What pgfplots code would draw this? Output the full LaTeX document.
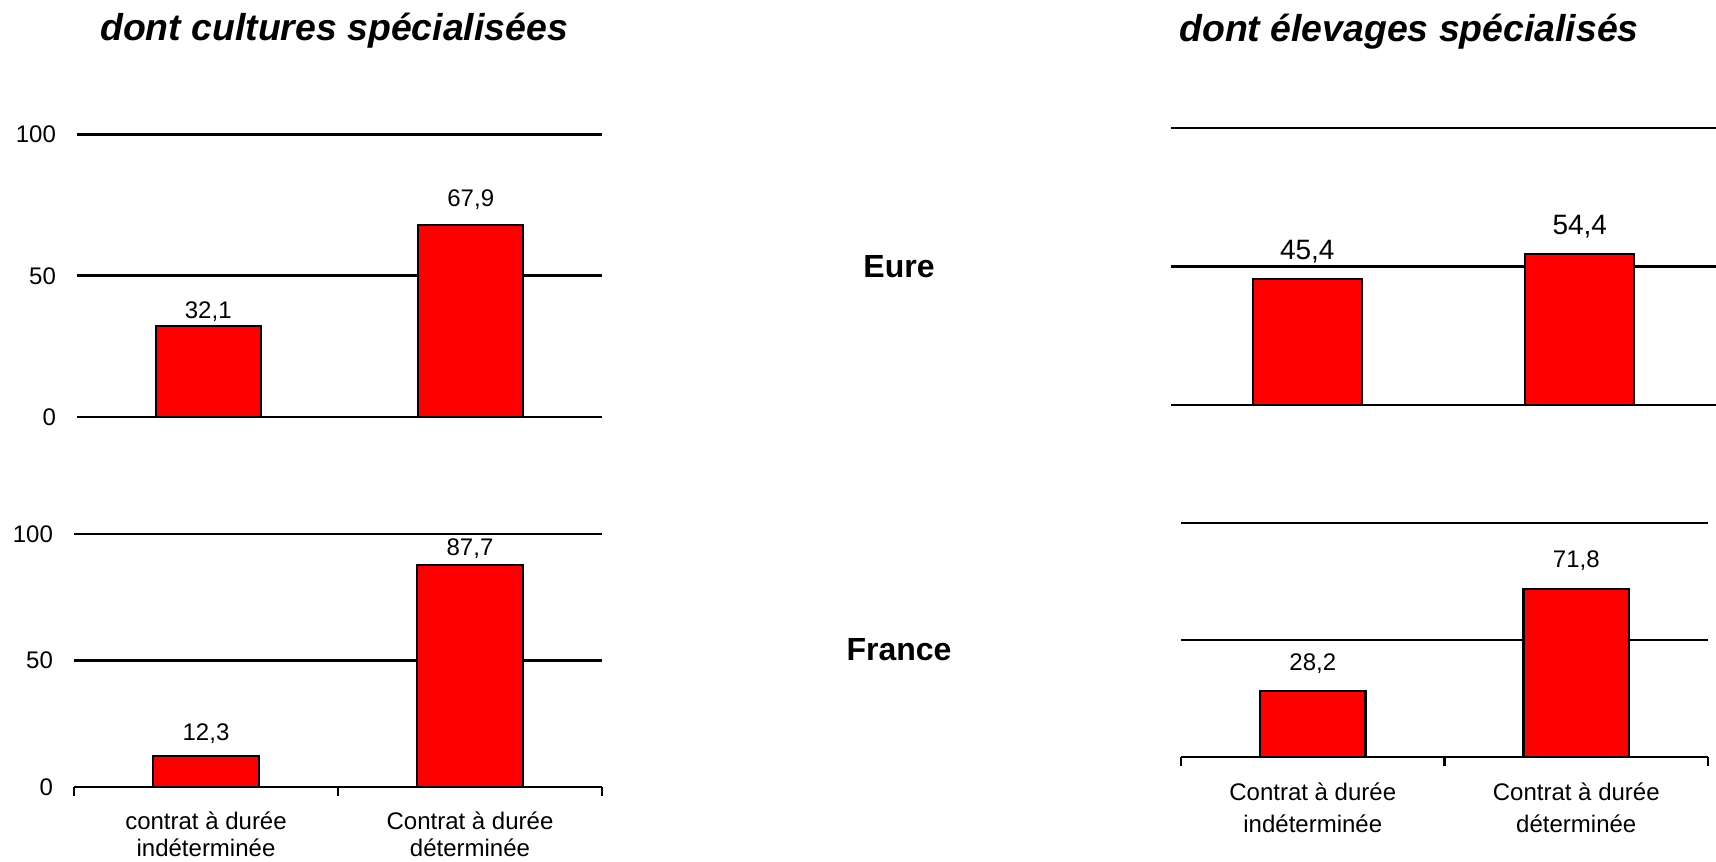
\documentclass[border=0pt]{standalone}
\usepackage{fontspec}
\setmainfont{Liberation Sans}
\usepackage{pgfplots}
\usepackage{pgfplotstable}
\pgfplotsset{compat=1.18}

\pgfplotstableread{
x y lab off
1 32.1 32,1 4.0
2 67.9 67,9 9.2
}\tabTL
\pgfplotstableread{
x y lab off
1 12.3 12,3 7.7
2 87.7 87,7 4.7
}\tabBL
\pgfplotstableread{
x y lab off
1 45.4 45,4 10.0
2 54.4 54,4 10.0
}\tabTR
\pgfplotstableread{
x y lab off
1 28.2 28,2 10.2
2 71.8 71,8 10.7
}\tabBR

\pgfplotsset{
  panel/.style={
    scale only axis, anchor=south west,
    xmin=0.5, xmax=2.5, ymin=0, ymax=100,
    ytick={0,50,100},
    axis x line=bottom, axis y line=left,
    x axis line style={-, line width=1.35pt, black},
    y axis line style={draw=none},
    ymajorgrids, grid style={black, line width=1.35pt},
    major tick length=0pt,
    ytick style={draw=none},
    tick label style={font=\fontsize{12}{14}\selectfont, text=black},
    yticklabel style={xshift=-7pt},
    /pgf/number format/assume math mode=true,
    clip=false,
    ybar, bar width=0.4,
  },
  barplot/.style={
    fill=red, draw=black, line width=1.1pt,
    nodes near coords, point meta=explicit symbolic,
    visualization depends on={\thisrow{off} \as \myoff},
    every node near coord/.append style={anchor=base, yshift=\myoff pt, text=black, font=\fontsize{#1}{#1}\selectfont},
  },
  bottomx/.style={
    xtick={1,2},
    minor xtick={0.5,1.5,2.5},
    minor tick length=4.5pt,
    tick align=outside,
    minor tick style={black, line width=1.1pt},
  },
}

\begin{document}
\begin{tikzpicture}
\path[use as bounding box] (0,0) rectangle (858pt,-430.5pt);

\node[anchor=base, font=\fontsize{18.7}{22}\selectfont\bfseries\itshape] at (167pt,-20.5pt) {dont cultures spécialisées};
\node[anchor=base, font=\fontsize{18.7}{22}\selectfont\bfseries\itshape] at (704.5pt,-20.8pt) {dont élevages spécialisés};
\node[anchor=base, font=\fontsize{16}{19}\selectfont\bfseries] at (449.5pt,-138.5pt) {Eure};
\node[anchor=base, font=\fontsize{16}{19}\selectfont\bfseries] at (449.5pt,-330pt) {France};

% top left
\begin{axis}[panel, at={(38.5pt,-208.5pt)}, width=262.5pt, height=141.25pt, xtick=\empty]
\addplot[barplot=12] table[x=x, y=y, meta=lab] {\tabTL};
\end{axis}

% bottom left
\begin{axis}[panel, bottomx, at={(37pt,-393.5pt)}, width=264pt, height=126.5pt,
  xticklabels={{contrat à durée\\indéterminée},{Contrat à durée\\déterminée}},
  xticklabel style={align=center, font=\fontsize{12}{13.5}\selectfont, yshift=-9pt}]
\addplot[barplot=12] table[x=x, y=y, meta=lab] {\tabBL};
\end{axis}

% top right
\begin{axis}[panel, at={(585.5pt,-202.5pt)}, width=272.5pt, height=138.5pt, xtick=\empty, yticklabels={,,}]
\addplot[barplot=14] table[x=x, y=y, meta=lab] {\tabTR};
\end{axis}

% bottom right
\begin{axis}[panel, bottomx, at={(590.5pt,-378.5pt)}, width=263.5pt, height=117pt, yticklabels={,,},
  xticklabels={{Contrat à durée\\indéterminée},{Contrat à durée\\déterminée}},
  xticklabel style={align=center, font=\fontsize{12}{16}\selectfont, yshift=-9.5pt}]
\addplot[barplot=12] table[x=x, y=y, meta=lab] {\tabBR};
\end{axis}
\end{tikzpicture}
\end{document}
